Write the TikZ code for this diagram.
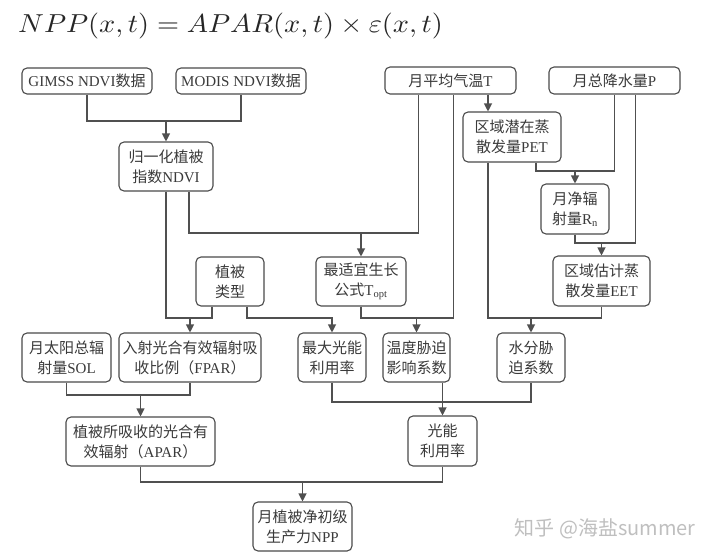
\documentclass[tikz,border=0pt]{standalone}
\usepackage{fontspec}
\setmainfont{Liberation Serif}
\newfontfamily\cjk{Noto Sans CJK SC}
\usetikzlibrary{arrows.meta}
\newcommand{\zh}[1]{{\cjk #1}}
\definecolor{boxgray}{HTML}{4A4A4A}
\definecolor{linegray}{HTML}{505050}
\definecolor{txtgray}{HTML}{3A3A3A}
\tikzset{
	box/.style={draw=boxgray, line width=1.1pt, rounded corners=5pt, fill=white,
		align=center, inner sep=1pt, text=txtgray, minimum height=49,
		font=\fontsize{15}{20}\selectfont},
	wire/.style={draw=linegray, line width=1.1pt},
	arr/.style={wire, -{Triangle[length=8pt,width=8pt]}},
}

\begin{document}
\begin{tikzpicture}[x=1pt, y=-1pt]
	\fill[white] (0,0) rectangle (720,557);
	\useasboundingbox (0,0) rectangle (720,557);

	% formula
	\node[anchor=base west, inner sep=0pt, text=black!85] (formula) at (18,32)
		{\scalebox{2.83}[2.6]{$NPP(x,t)=APAR(x,t)\times\varepsilon(x,t)$}};

	% input data
	\node[box, minimum width=130, minimum height=26] (gimss) at (87,81) {GIMSS NDVI\zh{数据}};
	\node[box, minimum width=130, minimum height=26] (modis) at (241,81) {MODIS NDVI\zh{数据}};
	\node[box, minimum width=131, minimum height=27] (temp) at (450.5,80.5) {\zh{月平均气温}T};
	\node[box, minimum width=131, minimum height=27] (prec) at (614.5,80.5) {\zh{月总降水量}P};

	% intermediate variables
	\node[box, minimum width=94] (ndvi) at (166,166.5) {\zh{归一化植被}\\\zh{指数}NDVI};
	\node[box, minimum width=98, minimum height=50] (pet) at (512,137) {\zh{区域潜在蒸}\\\zh{散发量}PET};
	\node[box, minimum width=68, minimum height=50] (rn) at (575,209) {\zh{月净辐}\\\zh{射量}R\textsubscript{n}};
	\node[box, minimum width=97, minimum height=50] (eet) at (601.5,281) {\zh{区域估计蒸}\\\zh{散发量}EET};
	\node[box, minimum width=68] (veg) at (230,281.5) {\zh{植被}\\\zh{类型}};
	\node[box, minimum width=90] (topt) at (361,281.5) {\zh{最适宜生长}\\\zh{公式}T\textsubscript{opt}};

	\node[box, minimum width=89] (sol) at (66.5,357.5) {\zh{月太阳总辐}\\\zh{射量}SOL};
	\node[box, minimum width=142] (fpar) at (190,357.5) {\zh{入射光合有效辐射吸}\\\zh{收比例（}FPAR\zh{）}};
	\node[box, minimum width=68] (luemax) at (332,357.5) {\zh{最大光能}\\\zh{利用率}};
	\node[box, minimum width=67] (tstress) at (416.5,357.5) {\zh{温度胁迫}\\\zh{影响系数}};
	\node[box, minimum width=68] (wstress) at (531,357.5) {\zh{水分胁}\\\zh{迫系数}};

	\node[box, minimum width=149] (apar) at (140.5,441.5) {\zh{植被所吸收的光合有}\\\zh{效辐射（}APAR\zh{）}};
	\node[box, minimum width=69, minimum height=50] (lue) at (442.5,441) {\zh{光能}\\\zh{利用率}};
	\node[box, minimum width=99] (npp) at (302.5,526.5) {\zh{月植被净初级}\\\zh{生产力}NPP};

	\node[text=gray!50, font=\cjk\fontsize{20}{24}\selectfont] (mark) at (605,529) {知乎 @海盐summer};

	% junction levels and exits
	\coordinate (h1) at (0,121);
	\coordinate (h2) at (0,171);
	\coordinate (h3) at (0,233);
	\coordinate (h4) at (0,243);
	\coordinate (h5) at (0,318);
	\coordinate (h6) at (0,395);
	\coordinate (h7) at (0,402);
	\coordinate (h8) at (0,482);
	\coordinate (ndvi-r) at ([xshift=23]ndvi.south);
	\coordinate (temp-a) at ([xshift=-32]temp.south);
	\coordinate (temp-b) at ([xshift=3]temp.south);
	\coordinate (pet-a) at ([xshift=-24]pet.south);
	\coordinate (pet-b) at ([xshift=24]pet.south);
	\coordinate (prec-b) at ([xshift=21]prec.south);
	\coordinate (veg-a) at ([xshift=-18]veg.south);
	\coordinate (veg-b) at ([xshift=17]veg.south);

	% connectors
	\draw[wire] (gimss.south) |- (modis.south |- h1) -- (modis.south);
	\draw[arr] (ndvi.north |- h1) -- (ndvi.north);

	\draw[wire] (ndvi-r) |- (temp-a |- h3) -- (temp-a);
	\draw[arr] (topt.north |- h3) -- (topt.north);

	\draw[arr] (temp.south -| pet-a) -- (pet-a |- pet.north);

	\draw[wire] (pet-b) |- (prec.south |- h2) -- (prec.south);
	\draw[arr] (rn.north |- h2) -- (rn.north);

	\draw[wire] (rn.south) |- (prec-b |- h4) -- (prec-b);
	\draw[arr] (eet.north |- h4) -- (eet.north);

	\draw[wire] (ndvi.south) |- (veg-a |- h5) -- (veg-a);
	\draw[arr] (fpar.north |- h5) -- (fpar.north);
	\draw[arr] (veg-b) |- (luemax.north |- h5) -- (luemax.north);

	\draw[wire] (topt.south) |- (temp-b |- h5) -- (temp-b);
	\draw[arr] (tstress.north |- h5) -- (tstress.north);

	\draw[wire] (pet-a) |- (eet.south |- h5) -- (eet.south);
	\draw[arr] (wstress.north |- h5) -- (wstress.north);

	\draw[wire] (sol.south) |- (fpar.south |- h6) -- (fpar.south);
	\draw[arr] (apar.north |- h6) -- (apar.north);

	\draw[wire] (luemax.south) |- (wstress.south |- h7) -- (wstress.south);
	\draw[arr] (tstress.south -| lue.north) -- (lue.north);

	\draw[wire] (apar.south) |- (lue.south |- h8) -- (lue.south);
	\draw[arr] (npp.north |- h8) -- (npp.north);
\end{tikzpicture}
\end{document}
